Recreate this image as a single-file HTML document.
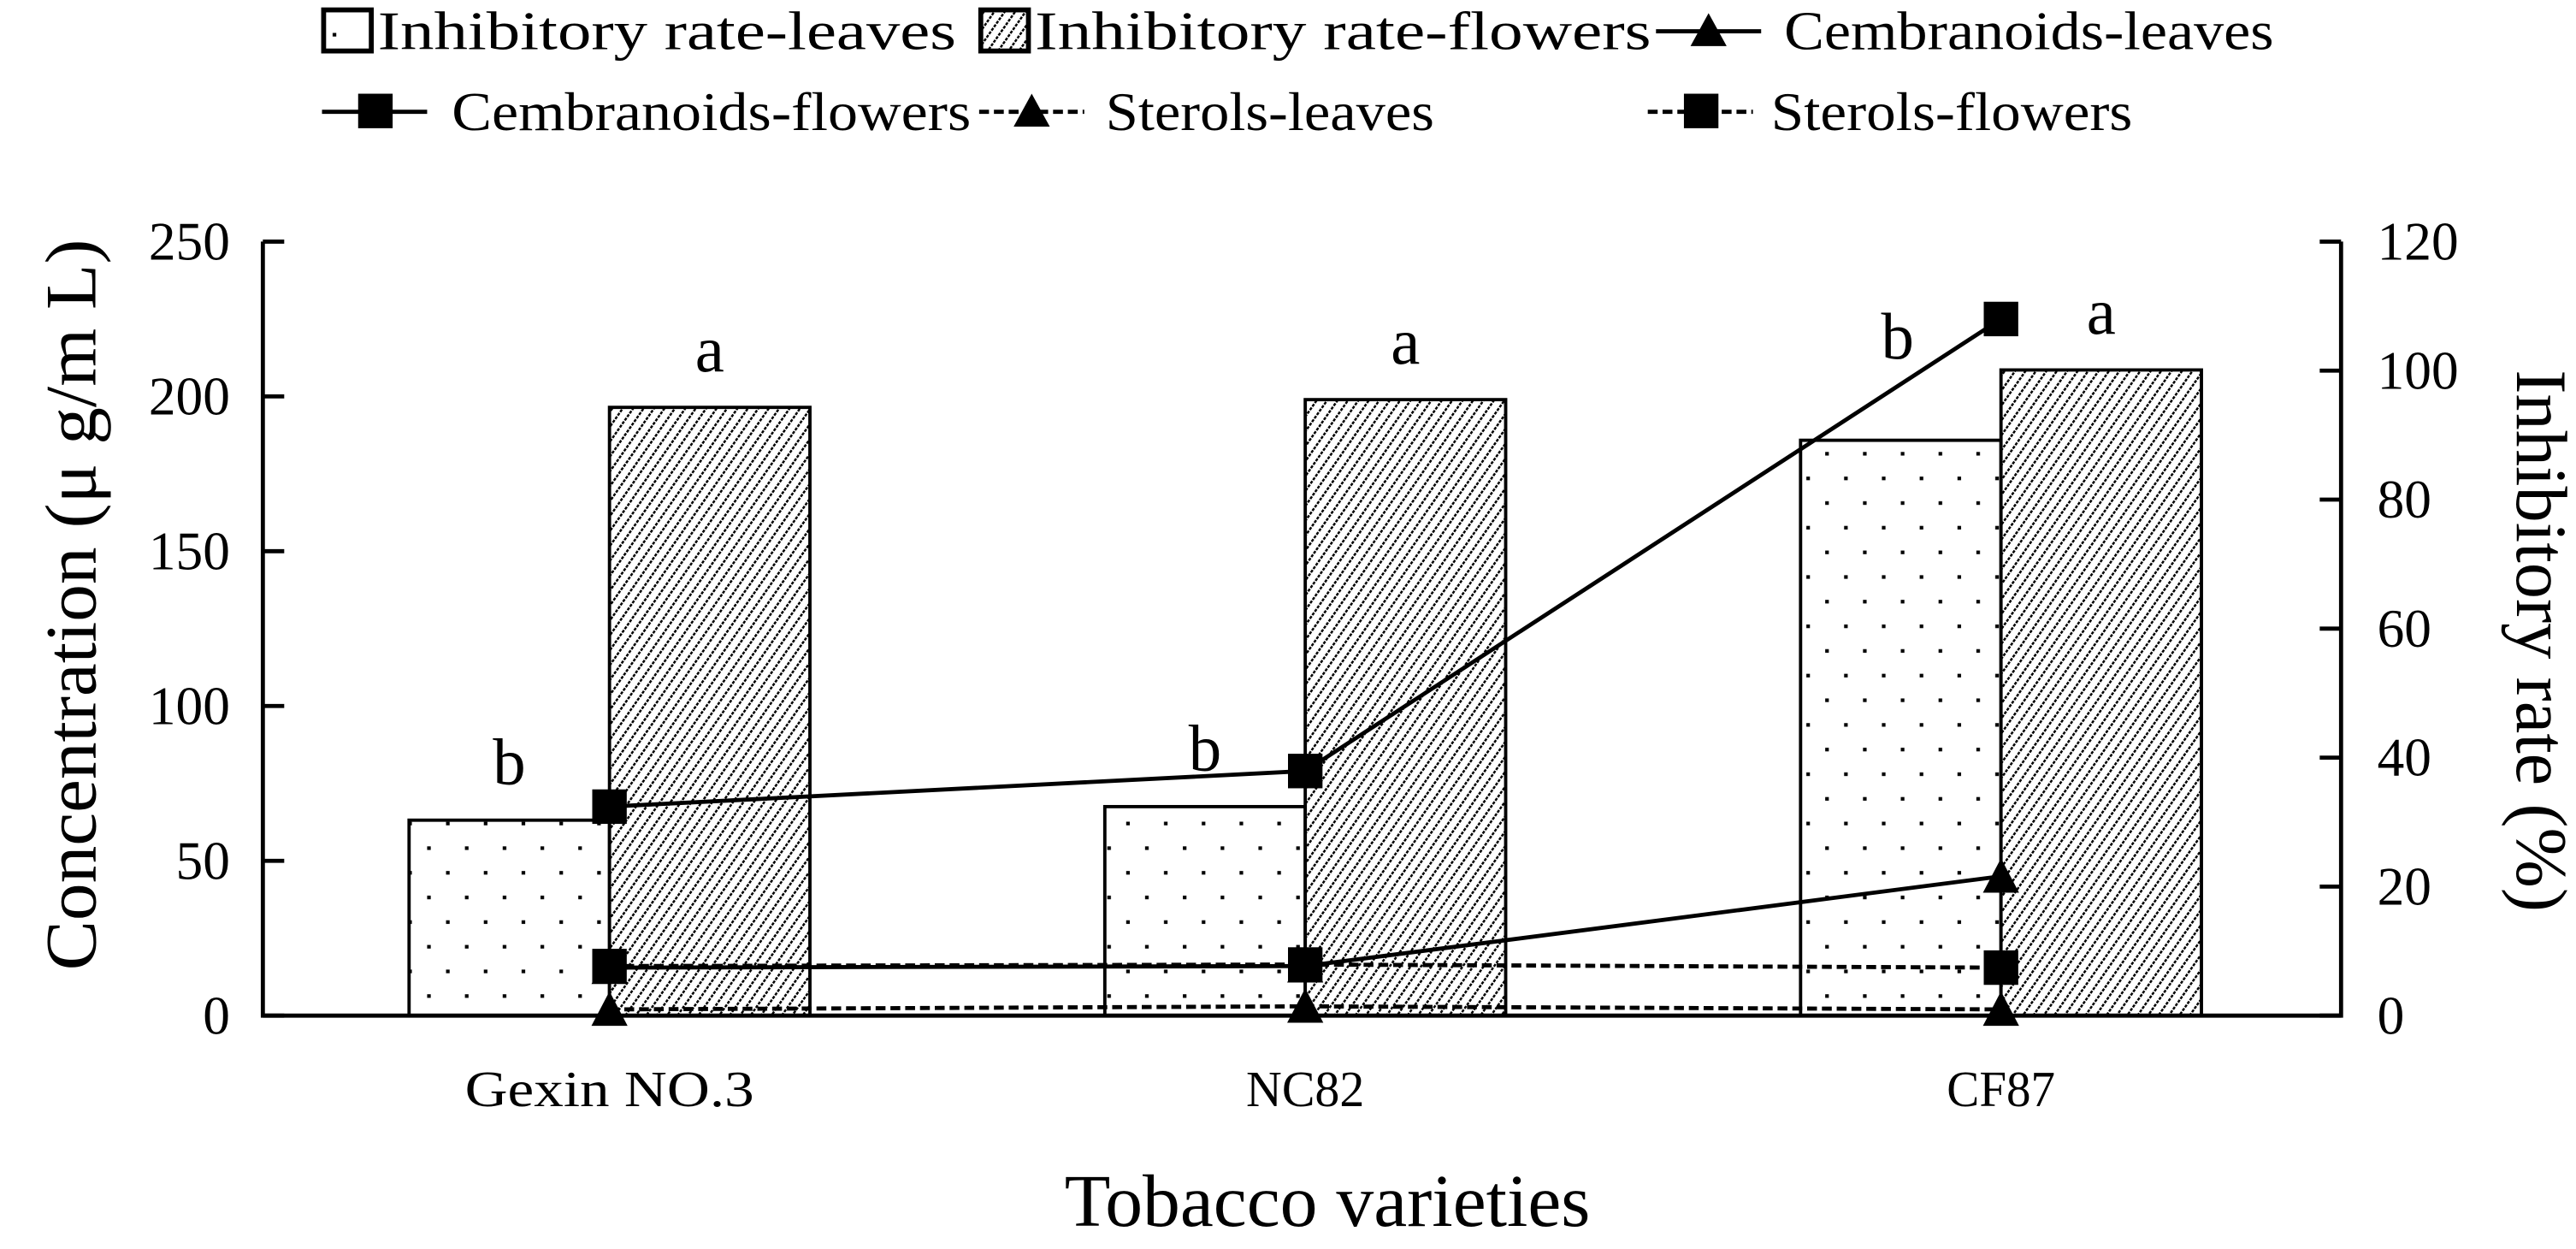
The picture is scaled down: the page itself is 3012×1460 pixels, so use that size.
<!DOCTYPE html>
<html><head><meta charset="utf-8"><style>
html,body{margin:0;padding:0;background:#fff}
svg{display:block}
text{font-family:"Liberation Serif",serif;fill:#000}
</style></head><body>
<svg id="chart" width="3012" height="1460" viewBox="0 0 1568 760" xmlns="http://www.w3.org/2000/svg">
<defs>
<pattern id="dots" patternUnits="userSpaceOnUse" width="23" height="30">
<rect x="7" y="5" width="2.2" height="2.2" fill="#000"/><rect x="18.5" y="20" width="2.2" height="2.2" fill="#000"/>
</pattern>
<pattern id="hatch" patternUnits="userSpaceOnUse" width="5.2" height="5.2" patternTransform="rotate(35)">
<rect width="5.2" height="5.2" fill="#fff"/><line x1="0" y1="0" x2="0" y2="5.2" stroke="#000" stroke-width="2.6" stroke-dasharray="1.8 0.8"/>
</pattern>
</defs>
<g id="legend">
<g><rect x="197" y="6" width="29" height="25" fill="url(#dots)" stroke="#000" stroke-width="3"/><text x="230" y="30" font-size="33" textLength="352" lengthAdjust="spacingAndGlyphs">Inhibitory rate-leaves</text></g>
<g><rect x="597" y="6" width="29" height="25" fill="url(#hatch)" stroke="#000" stroke-width="3"/><text x="630" y="30" font-size="33" textLength="375" lengthAdjust="spacingAndGlyphs">Inhibitory rate-flowers</text></g>
<g><line x1="1008" y1="19" x2="1072" y2="19" stroke="#000" stroke-width="2.5"/><polygon points="1040,8 1051,28 1029,28" fill="#000"/><text x="1086" y="30" font-size="33" textLength="298" lengthAdjust="spacingAndGlyphs">Cembranoids-leaves</text></g>
<g><line x1="196" y1="68" x2="260" y2="68" stroke="#000" stroke-width="2.5"/><rect x="218" y="57" width="21" height="21" fill="#000"/><text x="275" y="79" font-size="33" textLength="316" lengthAdjust="spacingAndGlyphs">Cembranoids-flowers</text></g>
<g><line x1="596" y1="68" x2="660" y2="68" stroke="#000" stroke-width="2.5" stroke-dasharray="6 3"/><polygon points="628,57 639,77 617,77" fill="#000"/><text x="673" y="79" font-size="33" textLength="200" lengthAdjust="spacingAndGlyphs">Sterols-leaves</text></g>
<g><line x1="1003" y1="68" x2="1067" y2="68" stroke="#000" stroke-width="2.5" stroke-dasharray="6 3"/><rect x="1025" y="57" width="21" height="21" fill="#000"/><text x="1078" y="79" font-size="33" textLength="220" lengthAdjust="spacingAndGlyphs">Sterols-flowers</text></g>
</g>
<g id="plot"></g>
<text transform="translate(58,368) rotate(-90)" font-size="44" text-anchor="middle" textLength="445" lengthAdjust="spacingAndGlyphs">Concentration (μ g/m L)</text>
<text transform="translate(1532,390) rotate(90)" font-size="44" text-anchor="middle">Inhibitory rate (%)</text>
<text x="808" y="746" font-size="45" text-anchor="middle" textLength="320" lengthAdjust="spacingAndGlyphs">Tobacco varieties</text>
</svg>
<script>
const categories = ["Gexin NO.3", "NC82", "CF87"];
const rateLeaves = [30.3, 32.4, 89.2];
const rateFlowers = [94.3, 95.5, 100.1];
const cembLeaves = [15.5, 16, 45];
const cembFlowers = [67.5, 79, 225];
const sterolsLeaves = [2, 3, 2];
const sterolsFlowers = [16, 16.5, 15.5];
const leftTicks = [0, 50, 100, 150, 200, 250];
const rightTicks = [0, 20, 40, 60, 80, 100, 120];
const lettersLeaves = ["b", "b", "b"];
const lettersFlowers = ["a", "a", "a"];

const NS = "http://www.w3.org/2000/svg";
const g = document.getElementById("plot");
const X0 = 160, X1 = 1425, Y0 = 618, Y1 = 147;
const yL = v => Y0 - (v / 250) * (Y0 - Y1);
const yR = v => Y0 - (v / 120) * (Y0 - Y1);
const xC = i => 371 + i * 423.5;
const BW = 122;
const xLabelW = [176, 72, 66];
function mk(tag, attrs, parent) {
  const e = document.createElementNS(NS, tag);
  for (const k in attrs) e.setAttribute(k, attrs[k]);
  (parent || g).appendChild(e);
  return e;
}
categories.forEach((c, i) => {
  const cx = xC(i);
  const b1 = mk("rect", {x: cx - BW, y: yR(rateLeaves[i]), width: BW, height: Y0 - yR(rateLeaves[i]), fill: "url(#dots)", stroke: "#000", "stroke-width": 2});
  
  
  const b2 = mk("rect", {x: cx, y: yR(rateFlowers[i]), width: BW, height: Y0 - yR(rateFlowers[i]), fill: "url(#hatch)", stroke: "#000", "stroke-width": 2});
  
  
  const t1 = mk("text", {x: cx - BW / 2 + (i == 2 ? -2 : 0), y: (i == 2 ? yL(cembFlowers[i]) + 24 : yR(rateLeaves[i]) - 22), "font-size": 40, "text-anchor": "middle"});
  t1.textContent = lettersLeaves[i];
  
  
  const t2 = mk("text", {x: cx + BW / 2, y: yR(rateFlowers[i]) - 22, "font-size": 40, "text-anchor": "middle"});
  t2.textContent = lettersFlowers[i];
  
  
  const xl = mk("text", {x: cx, y: 673, "font-size": 31, "text-anchor": "middle", textLength: xLabelW[i], lengthAdjust: "spacingAndGlyphs"});
  xl.textContent = c;
  
  
});
const ax = mk("path", {d: `M${X0},${Y1} V${Y0} H${X1} V${Y1}`, fill: "none", stroke: "#000", "stroke-width": 2.5});


leftTicks.forEach(v => {
  mk("line", {x1: X0, x2: X0 + 13, y1: yL(v), y2: yL(v), stroke: "#000", "stroke-width": 2.5});
  const t = mk("text", {x: X0 - 20, y: yL(v) + 11, "font-size": 33, "text-anchor": "end"});
  t.textContent = v;
  
  
});
rightTicks.forEach(v => {
  mk("line", {x1: X1 - 13, x2: X1, y1: yR(v), y2: yR(v), stroke: "#000", "stroke-width": 2.5});
  const t = mk("text", {x: X1 + 22, y: yR(v) + 11, "font-size": 33, "text-anchor": "start"});
  t.textContent = v;
  
  
});
function series(vals, dash, marker, name) {
  const pts = vals.map((v, i) => [xC(i), yL(v)]);
  const l = mk("polyline", {points: pts.map(p => p.join(",")).join(" "), fill: "none", stroke: "#000", "stroke-width": 2.5, "stroke-dasharray": dash});
  
  
  pts.forEach(p => {
    let m;
    if (marker === "sq") m = mk("rect", {x: p[0] - 10.5, y: p[1] - 10.5, width: 21, height: 21, fill: "#000"});
    else m = mk("polygon", {points: `${p[0]},${p[1] - 11} ${p[0] + 11},${p[1] + 10} ${p[0] - 11},${p[1] + 10}`, fill: "#000"});
    
    
  });
}
series(sterolsLeaves, "6 3", "tri", "sterols-leaves");
series(sterolsFlowers, "6 3", "sq", "sterols-flowers");
series(cembLeaves, "none", "tri", "cembranoids-leaves");
series(cembFlowers, "none", "sq", "cembranoids-flowers");
</script>
</body></html>
